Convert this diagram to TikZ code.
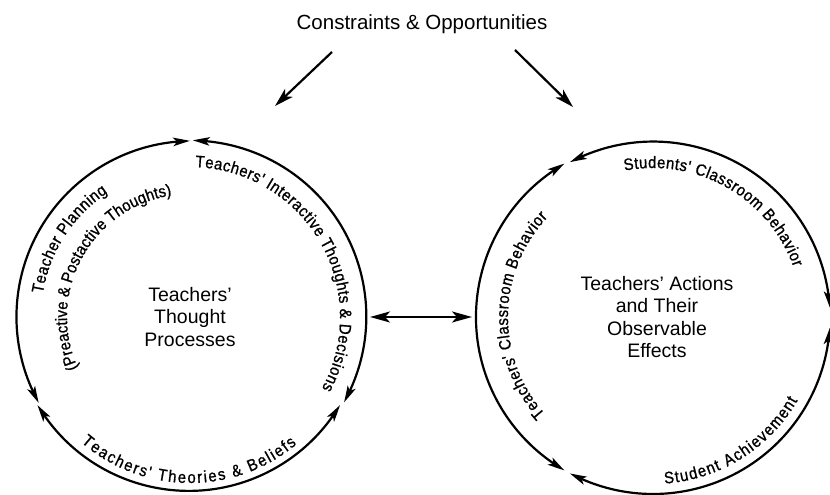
\documentclass[tikz,border=0pt]{standalone}
\usepackage{fontspec}
\setmainfont{Liberation Sans}
\newfontfamily\arcfam[FakeStretch=0.9,FakeBold=1]{Liberation Sans}
\usetikzlibrary{arrows.meta,bending,calc,decorations.text}
\newcommand\arcfont{\arcfam\fontsize{16.5}{16.5}\selectfont}

\begin{document}
\begin{tikzpicture}[x=1pt,y=1pt,
  ring/.style={line width=2.2pt,
    arrows={Stealth[length=17pt,width=8.5pt,inset=4pt,bend]-Stealth[length=17pt,width=8.5pt,inset=4pt,bend]}},
  link/.style={line width=2.2pt, -{Stealth[length=19pt,width=11pt,inset=5pt]}},
  twoway/.style={line width=2.4pt,
    {Stealth[length=20pt,width=11pt,inset=5pt]}-{Stealth[length=20pt,width=11pt,inset=5pt]}},
  arctext/.style={decorate, decoration={text along path, text align=fit to path,
    text={|\arcfont|#1}}},
  bodytext/.style={align=center, inner sep=0pt, font=\fontsize{19.5}{22.5}\selectfont},
  rim/.style={circle, inner sep=0pt, outer sep=0pt}
]
\useasboundingbox (0,0) rectangle (830,495);

% title and the two arrows below it
\node[anchor=base, font=\fontsize{20.5}{24}\selectfont] (title) at (422,465) {Constraints \& Opportunities};
\coordinate (a1s) at (332,443);
\coordinate (a1e) at (275,389);
\coordinate (a2s) at (515,445);
\coordinate (a2e) at (573,388);
\draw[link] (a1s) -- (a1e);
\draw[link] (a2s) -- (a2e);

% the two rings
\node[rim, minimum size=352pt] (c1) at (190,178) {};
\node[rim, minimum size=354pt] (c2) at (653,178) {};

% left ring: three double-headed arcs
\draw[ring] (c1.90.8)  arc[start angle=90.8,  end angle=209.2, radius=176pt];
\draw[ring] (c1.-29.2) arc[start angle=-29.2, end angle=89.2,  radius=176pt];
\draw[ring] (c1.210.8) arc[start angle=210.8, end angle=329.2, radius=176pt];

% right ring: three double-headed arcs
\draw[ring] (c2.3.5)   arc[start angle=3.5,   end angle=118,   radius=177pt];
\draw[ring] (c2.120)   arc[start angle=120,   end angle=240,   radius=177pt];
\draw[ring] (c2.242)   arc[start angle=242,   end angle=356.5, radius=177pt];

% link between the rings
\draw[twoway, shorten <=4pt, shorten >=4pt] (c1.east) -- (c2.west);

% centre texts
\node[bodytext] (tl) at (190,178) {Teachers’\\Thought\\Processes};
\node[bodytext] (tr) at (657,178) {Teachers’ Actions\\and Their\\Observable\\Effects};

% labels along the left ring
\path[arctext={Teachers' Interactive Thoughts {\&} Decisions}]
  ($(c1.center)+(88:150pt)$) arc[start angle=88, end angle=-28.5, radius=150pt];
\path[arctext={Teacher Planning}]
  ($(c1.center)+(171:149pt)$) arc[start angle=171, end angle=123.5, radius=149pt];
\path[arctext={(Preactive {\&} Postactive Thoughts)}]
  ($(c1.center)+(204.5:123pt)$) arc[start angle=204.5, end angle=98.5, radius=123pt];
\path[arctext={Teachers' Theories {\&} Beliefs}]
  ($(c1.center)+(229:166pt)$) arc[start angle=229, end angle=310, radius=166pt];

% labels along the right ring
\path[arctext={Students' Classroom Behavior}]
  ($(c2.center)+(101:149pt)$) arc[start angle=101, end angle=19.5, radius=149pt];
\path[arctext={Teachers' Classroom Behavior}]
  ($(c2.center)+(222:145pt)$) arc[start angle=222, end angle=136.5, radius=145pt];
\path[arctext={Student Achievement}]
  ($(c2.center)+(-86:167pt)$) arc[start angle=-86, end angle=-30, radius=167pt];
\end{tikzpicture}
\end{document}
